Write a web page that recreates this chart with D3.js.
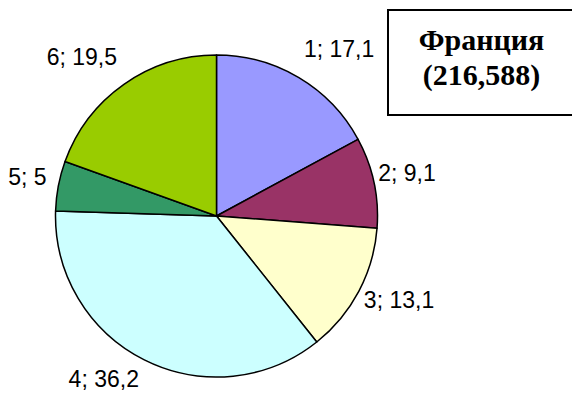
<!DOCTYPE html>
<html>
<head>
<meta charset="utf-8">
<script src="https://cdn.jsdelivr.net/npm/d3@7"></script>
<style>
  html, body { margin: 0; padding: 0; background: #fff; }
  svg { display: block; }
</style>
</head>
<body>
<svg id="chart" width="572" height="394"></svg>
<script>
// Sector numbers, their shares (%) and fill colours
const categories = ["1", "2", "3", "4", "5", "6"];
const values = [17.1, 9.1, 13.1, 36.2, 5, 19.5];
const colors = ["#9999FF", "#993366", "#FFFFCC", "#CCFFFF", "#339966", "#99CC00"];
const titleLines = ["Франция", "(216,588)"];

const svg = d3.select("#chart");
const cx = 216.5, cy = 216, radius = 161;

const fmt = v => String(v).replace(".", ",");

const pie = d3.pie().sort(null).value(d => d.value);
const arcs = pie(categories.map((c, i) => ({ cat: c, value: values[i], color: colors[i] })));
const arc = d3.arc().innerRadius(0).outerRadius(radius);

const g = svg.append("g").attr("transform", `translate(${cx},${cy})`);

g.selectAll("path")
  .data(arcs)
  .join("path")
  .attr("d", arc)
  .attr("fill", d => d.data.color)
  .attr("stroke", "#000")
  .attr("stroke-width", 1.5)
  .attr("stroke-linejoin", "round");

// Outside labels "n; value", placed just beyond the rim at each sector's mid-angle
g.selectAll("text.lbl")
  .data(arcs)
  .join("text")
  .attr("class", "lbl")
  .each(function(d) {
    const a = (d.startAngle + d.endAngle) / 2;
    const s = Math.sin(a), c = Math.cos(a);
    const rx = radius + 12 - (s > 0 ? 8 * s * s : 0);
    const ry = radius + 12;
    const x = rx * s;
    const y = -ry * c + 5 - c * (c > 0 ? 18 : 13);
    d3.select(this)
      .attr("x", x)
      .attr("y", y)
      .attr("text-anchor", s >= 0 ? "start" : "end");
  })
  .attr("font-family", "Liberation Sans, Arial, sans-serif")
  .attr("font-size", 23)
  .attr("fill", "#000")
  .text(d => `${d.data.cat}; ${fmt(d.data.value)}`);

// Title box
svg.append("rect")
  .attr("x", 388).attr("y", 10)
  .attr("width", 200).attr("height", 105)
  .attr("fill", "#fff")
  .attr("stroke", "#000")
  .attr("stroke-width", 2);

svg.selectAll("text.title")
  .data(titleLines)
  .join("text")
  .attr("class", "title")
  .attr("x", 481.5)
  .attr("y", (d, i) => 49.5 + i * 35.5)
  .attr("text-anchor", "middle")
  .attr("font-family", "Liberation Serif, Times New Roman, serif")
  .attr("font-weight", "bold")
  .attr("font-size", 30)
  .attr("fill", "#000")
  .text(d => d);
</script>
</body>
</html>
